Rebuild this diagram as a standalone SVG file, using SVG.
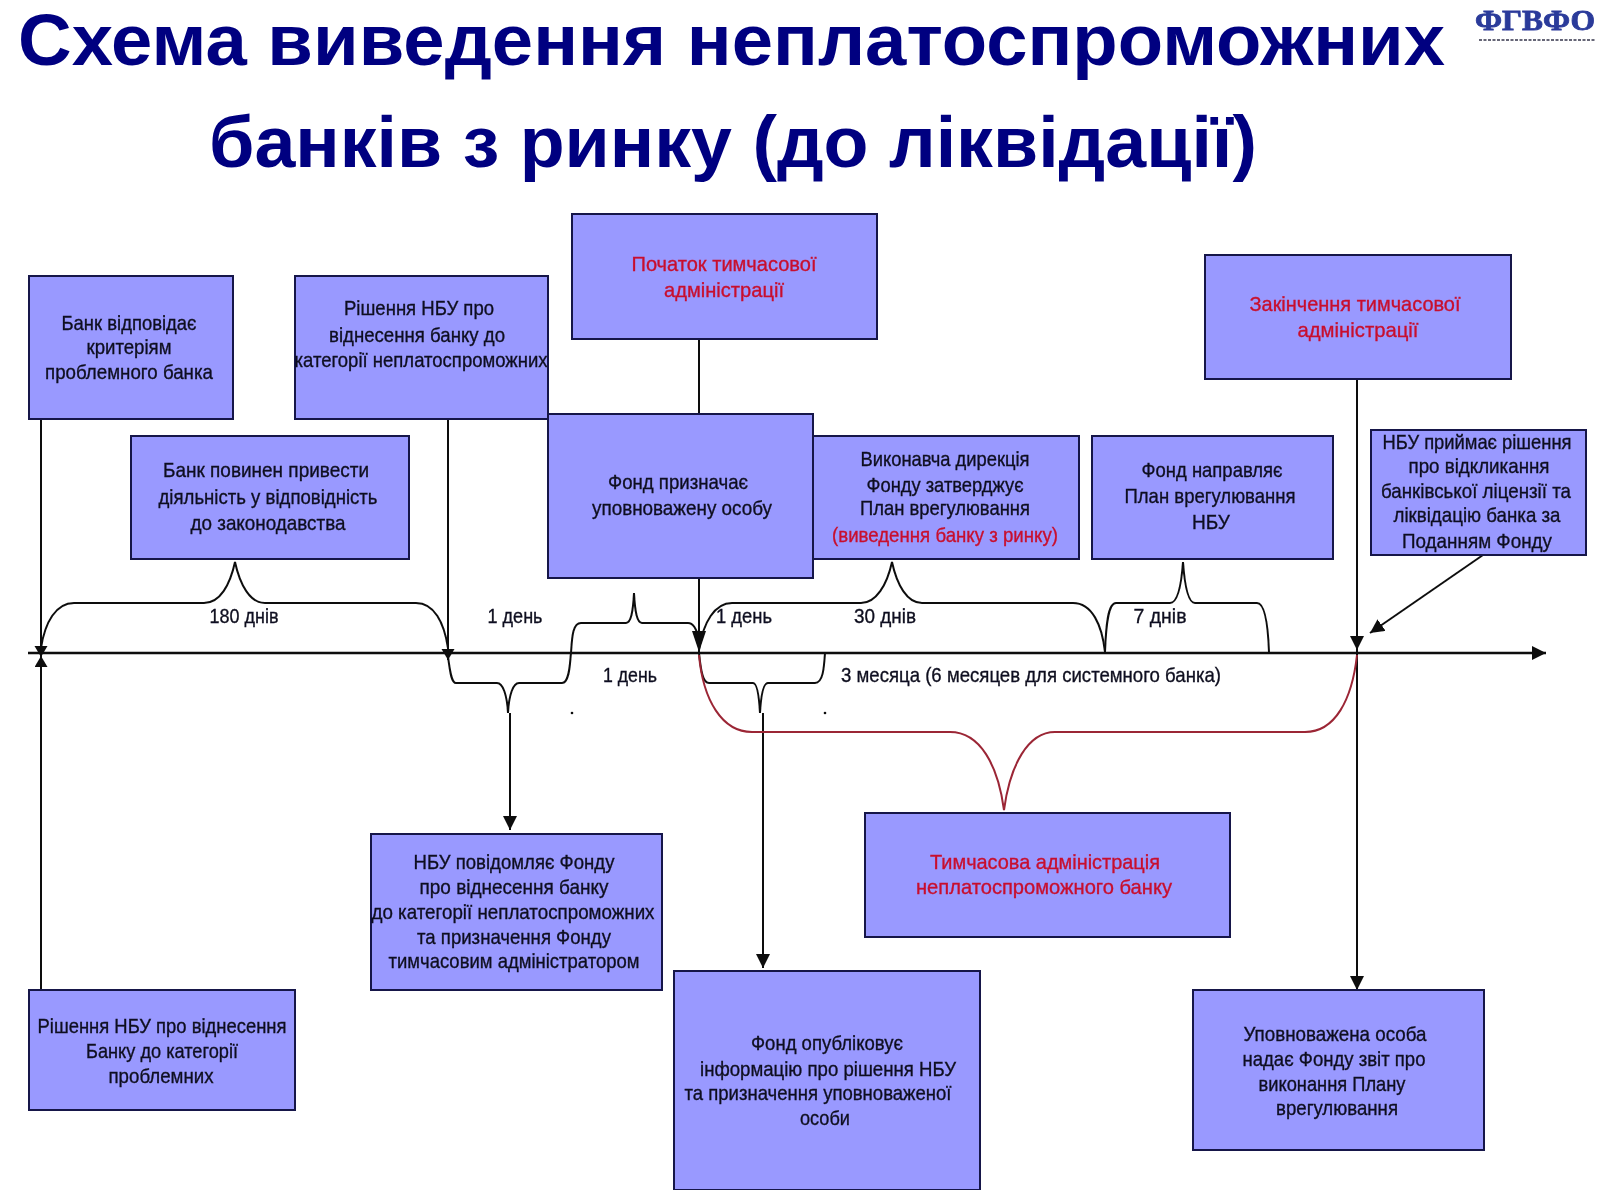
<svg xmlns="http://www.w3.org/2000/svg" width="1600" height="1200" viewBox="0 0 1600 1200">
<style>
text{font-family:"Liberation Sans",Arial,sans-serif}
.b{fill:#9999ff;stroke:#14144a;stroke-width:2}
.t{font-size:21px;fill:#101020;stroke:#101020;stroke-width:.35;text-anchor:middle}
.r{font-size:21px;fill:#c8102e;stroke:#c8102e;stroke-width:.35;text-anchor:middle}
.h{font-size:72px;font-weight:bold;fill:#000080}
.l{fill:none;stroke:#111;stroke-width:2}
.a{fill:none;stroke:#111;stroke-width:2.5}
.c{fill:none;stroke:#9b2535;stroke-width:2}
.d{fill:#111}
</style>
<defs>
<filter id="soft" x="0" y="0" width="100%" height="100%"><feGaussianBlur stdDeviation="0.55"/></filter>
<marker id="arr" markerUnits="userSpaceOnUse" markerWidth="16" markerHeight="16" refX="14" refY="7" orient="auto"><path d="M0 0L14 7L0 14Z" fill="#111"/></marker>
<marker id="sm" markerUnits="userSpaceOnUse" markerWidth="14" markerHeight="14" refX="11" refY="6.5" orient="auto"><path d="M0 0L11 6.5L0 13Z" fill="#111"/></marker>
<marker id="lg" markerUnits="userSpaceOnUse" markerWidth="24" markerHeight="16" refX="21" refY="7" orient="auto"><path d="M0 0L21 7L0 14Z" fill="#111"/></marker>
</defs>
<rect width="1600" height="1200" fill="#fff"/>
<g filter="url(#soft)">
<g id="title">
<text class="h" x="18" y="65" textLength="1427" lengthAdjust="spacingAndGlyphs">Схема виведення неплатоспроможних</text>
<text class="h" x="209" y="167" textLength="1048" lengthAdjust="spacingAndGlyphs">банків з ринку (до ліквідації)</text>
</g>
<g id="logo">
<text x="1475" y="30" textLength="120" lengthAdjust="spacingAndGlyphs" style="font-family:'Liberation Serif',serif;font-weight:bold;font-size:30px;fill:#2a3a9a;stroke:#2a3a9a;stroke-width:.8">ФГВФО</text>
<line x1="1479" y1="40" x2="1595" y2="40" stroke="#667" stroke-width="2" stroke-dasharray="3 1.5"/>
</g>
<g id="connectors">
<line class="a" x1="28" y1="653" x2="1546" y2="653" marker-end="url(#arr)"/>
<line class="l" x1="41" y1="419" x2="41" y2="657" marker-end="url(#sm)"/>
<line class="l" x1="41" y1="990" x2="41" y2="656" marker-end="url(#sm)"/>
<line class="l" x1="448" y1="419" x2="448" y2="660" marker-end="url(#sm)"/>
<line class="l" x1="699" y1="339" x2="699" y2="414"/>
<line class="l" x1="699" y1="578" x2="699" y2="652" marker-end="url(#lg)"/>
<line class="l" x1="1357" y1="379" x2="1357" y2="650" marker-end="url(#arr)"/>
<line class="l" x1="1357" y1="650" x2="1357" y2="990" marker-end="url(#arr)"/>
<line class="l" x1="1483" y1="555" x2="1370" y2="633" marker-end="url(#arr)"/>
<line class="l" x1="510" y1="713" x2="510" y2="830" marker-end="url(#arr)"/>
<line class="l" x1="763" y1="713" x2="763" y2="968" marker-end="url(#arr)"/>
<path class="l" d="M41 648C45 622 56 603 74 603H204C220 603 230 585 235 562C240 585 250 603 265 603H416C434 603 444 622 448 648"/>
<path class="l" d="M448 657C450 670 451 683 456 683H497C503 683 507 695 508 713C509 695 513 683 519 683H562C570 683 570 660 571 653C572 640 572 623 581 623H626C631 623 633 612 634 593C635 612 637 623 642 623H688C694 623 697 630 699 640"/>
<path class="l" d="M699 653C701 672 703 683 709 683H753C757 683 759 695 760 713C761 695 763 683 768 683H815C823 683 824 668 825 653"/>
<path class="l" d="M699 650C703 622 715 603 732 603H861C876 603 887 585 892 562C897 585 907 603 922 603H1073C1092 603 1102 625 1105 652"/>
<path class="l" d="M1105 652C1106 625 1108 603 1116 603H1170C1177 603 1181 590 1183 562C1185 590 1189 603 1195 603H1257C1265 603 1268 625 1269 652"/>
<path class="c" d="M699 655C703 700 722 732 752 732H950C980 732 998 765 1004 810C1010 765 1028 732 1055 732H1305C1335 732 1352 700 1357 655"/>
<circle class="d" cx="572" cy="713" r="1.3"/>
<circle class="d" cx="825" cy="713" r="1.3"/>
</g>
<g id="labels">
<text class="t" x="244" y="623" textLength="69" lengthAdjust="spacingAndGlyphs">180 днів</text>
<text class="t" x="515" y="623" textLength="55" lengthAdjust="spacingAndGlyphs">1 день</text>
<text class="t" x="744" y="623" textLength="56" lengthAdjust="spacingAndGlyphs">1 день</text>
<text class="t" x="885" y="623" textLength="62" lengthAdjust="spacingAndGlyphs">30 днів</text>
<text class="t" x="1160" y="623" textLength="53" lengthAdjust="spacingAndGlyphs">7 днів</text>
<text class="t" x="630" y="682" textLength="54" lengthAdjust="spacingAndGlyphs">1 день</text>
<text class="t" x="1031" y="682" textLength="380" lengthAdjust="spacingAndGlyphs">3 месяца (6 месяцев для системного банка)</text>
</g>
<g id="node1"><rect class="b" x="29" y="276" width="204" height="143"/>
<text class="t" x="129" y="330" textLength="135" lengthAdjust="spacingAndGlyphs">Банк відповідає</text>
<text class="t" x="129" y="354" textLength="85" lengthAdjust="spacingAndGlyphs">критеріям</text>
<text class="t" x="129" y="379" textLength="168" lengthAdjust="spacingAndGlyphs">проблемного банка</text></g>
<g id="node2"><rect class="b" x="295" y="276" width="253" height="143"/>
<text class="t" x="419" y="315" textLength="150" lengthAdjust="spacingAndGlyphs">Рішення НБУ про</text>
<text class="t" x="417" y="342" textLength="176" lengthAdjust="spacingAndGlyphs">віднесення банку до</text>
<text class="t" x="421" y="367" textLength="253" lengthAdjust="spacingAndGlyphs">категорії неплатоспроможних</text></g>
<g id="node3"><rect class="b" x="572" y="214" width="305" height="125"/>
<text class="r" x="724" y="271" textLength="185" lengthAdjust="spacingAndGlyphs">Початок тимчасової</text>
<text class="r" x="724" y="297" textLength="120" lengthAdjust="spacingAndGlyphs">адміністрації</text></g>
<g id="node4"><rect class="b" x="131" y="436" width="278" height="123"/>
<text class="t" x="266" y="477" textLength="206" lengthAdjust="spacingAndGlyphs">Банк повинен  привести</text>
<text class="t" x="268" y="504" textLength="219" lengthAdjust="spacingAndGlyphs">діяльність  у відповідність</text>
<text class="t" x="268" y="530" textLength="155" lengthAdjust="spacingAndGlyphs">до законодавства</text></g>
<g id="node5"><rect class="b" x="548" y="414" width="265" height="164"/>
<text class="t" x="678" y="489" textLength="140" lengthAdjust="spacingAndGlyphs">Фонд призначає</text>
<text class="t" x="682" y="515" textLength="180" lengthAdjust="spacingAndGlyphs">уповноважену особу</text></g>
<g id="node6"><rect class="b" x="813" y="436" width="266" height="123"/>
<text class="t" x="945" y="466" textLength="169" lengthAdjust="spacingAndGlyphs">Виконавча дирекція</text>
<text class="t" x="945" y="492" textLength="157" lengthAdjust="spacingAndGlyphs">Фонду затверджує</text>
<text class="t" x="945" y="515" textLength="170" lengthAdjust="spacingAndGlyphs">План врегулювання</text>
<text class="r" x="945" y="542" textLength="226" lengthAdjust="spacingAndGlyphs">(виведення банку з ринку)</text></g>
<g id="node7"><rect class="b" x="1092" y="436" width="241" height="123"/>
<text class="t" x="1212" y="477" textLength="141" lengthAdjust="spacingAndGlyphs">Фонд направляє</text>
<text class="t" x="1210" y="503" textLength="171" lengthAdjust="spacingAndGlyphs">План врегулювання</text>
<text class="t" x="1211" y="529" textLength="38" lengthAdjust="spacingAndGlyphs">НБУ</text></g>
<g id="node8"><rect class="b" x="1205" y="255" width="306" height="124"/>
<text class="r" x="1355" y="311" textLength="211" lengthAdjust="spacingAndGlyphs">Закінчення тимчасової</text>
<text class="r" x="1358" y="337" textLength="121" lengthAdjust="spacingAndGlyphs">адміністрації</text></g>
<g id="node9"><rect class="b" x="1371" y="430" width="215" height="125"/>
<text class="t" x="1477" y="449" textLength="189" lengthAdjust="spacingAndGlyphs">НБУ приймає рішення</text>
<text class="t" x="1479" y="473" textLength="141" lengthAdjust="spacingAndGlyphs">про відкликання</text>
<text class="t" x="1476" y="498" textLength="190" lengthAdjust="spacingAndGlyphs">банківської ліцензії та</text>
<text class="t" x="1477" y="522" textLength="167" lengthAdjust="spacingAndGlyphs">ліквідацію банка за</text>
<text class="t" x="1477" y="548" textLength="150" lengthAdjust="spacingAndGlyphs">Поданням  Фонду</text></g>
<g id="node10"><rect class="b" x="371" y="834" width="291" height="156"/>
<text class="t" x="514" y="869" textLength="201" lengthAdjust="spacingAndGlyphs">НБУ повідомляє Фонду</text>
<text class="t" x="514" y="894" textLength="189" lengthAdjust="spacingAndGlyphs">про віднесення банку</text>
<text class="t" x="513" y="919" textLength="283" lengthAdjust="spacingAndGlyphs">до категорії неплатоспроможних</text>
<text class="t" x="514" y="944" textLength="194" lengthAdjust="spacingAndGlyphs">та призначення Фонду</text>
<text class="t" x="514" y="968" textLength="251" lengthAdjust="spacingAndGlyphs">тимчасовим адміністратором</text></g>
<g id="node11"><rect class="b" x="865" y="813" width="365" height="124"/>
<text class="r" x="1045" y="869" textLength="230" lengthAdjust="spacingAndGlyphs">Тимчасова адміністрація</text>
<text class="r" x="1044" y="894" textLength="256" lengthAdjust="spacingAndGlyphs">неплатоспроможного банку</text></g>
<g id="node12"><rect class="b" x="29" y="990" width="266" height="120"/>
<text class="t" x="162" y="1033" textLength="249" lengthAdjust="spacingAndGlyphs">Рішення НБУ про віднесення</text>
<text class="t" x="162" y="1058" textLength="152" lengthAdjust="spacingAndGlyphs">Банку до категорії</text>
<text class="t" x="161" y="1083" textLength="105" lengthAdjust="spacingAndGlyphs">проблемних</text></g>
<g id="node13"><rect class="b" x="674" y="971" width="306" height="219"/>
<text class="t" x="827" y="1050" textLength="152" lengthAdjust="spacingAndGlyphs">Фонд опубліковує</text>
<text class="t" x="828" y="1076" textLength="256" lengthAdjust="spacingAndGlyphs">інформацію про рішення НБУ</text>
<text class="t" x="818" y="1100" textLength="267" lengthAdjust="spacingAndGlyphs">та призначення уповноваженої</text>
<text class="t" x="825" y="1125" textLength="50" lengthAdjust="spacingAndGlyphs">особи</text></g>
<g id="node14"><rect class="b" x="1193" y="990" width="291" height="160"/>
<text class="t" x="1335" y="1041" textLength="183" lengthAdjust="spacingAndGlyphs">Уповноважена особа</text>
<text class="t" x="1334" y="1066" textLength="183" lengthAdjust="spacingAndGlyphs">надає Фонду звіт про</text>
<text class="t" x="1332" y="1091" textLength="147" lengthAdjust="spacingAndGlyphs">виконання  Плану</text>
<text class="t" x="1337" y="1115" textLength="122" lengthAdjust="spacingAndGlyphs">врегулювання</text></g>
</g>
</svg>
